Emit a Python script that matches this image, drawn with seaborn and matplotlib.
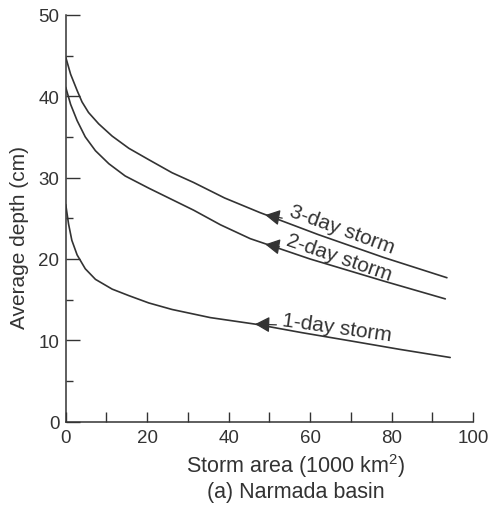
import matplotlib
matplotlib.use("Agg")
import matplotlib.pyplot as plt
import seaborn as sns
import pandas as pd
from matplotlib.ticker import MultipleLocator

# ---- data ----
area_1day = [0, 0.7, 1.5, 2.8, 4.8, 7.3, 11.4, 15.5, 20.4, 26.1, 35.5, 46.5, 58.0, 69.8, 82.0, 94.4]
depth_1day = [26.7, 24.3, 22.3, 20.5, 18.8, 17.5, 16.3, 15.5, 14.6, 13.8, 12.8, 12.0, 10.95, 9.95, 8.9, 7.9]

area_2day = [0, 1.2, 2.8, 4.8, 7.3, 10.6, 14.6, 20.4, 31.4, 38.0, 45.3, 60.0, 78.0, 93.2]
depth_2day = [41.1, 39.0, 37.0, 35.0, 33.3, 31.7, 30.2, 28.7, 26.0, 24.2, 22.5, 20.0, 17.3, 15.1]

area_3day = [0, 1.2, 2.8, 4.0, 5.6, 8.1, 11.4, 15.5, 20.4, 26.1, 31.4, 39.0, 47.7, 62.0, 78.0, 93.6]
depth_3day = [44.8, 42.7, 40.7, 39.3, 38.0, 36.6, 35.1, 33.6, 32.2, 30.6, 29.4, 27.5, 25.7, 23.0, 20.2, 17.7]

series_names = ["1-day storm", "2-day storm", "3-day storm"]
x_ticks = [0, 20, 40, 60, 80, 100]
y_ticks = [0, 10, 20, 30, 40, 50]

rows = []
for name, xs, ys in zip(series_names,
                        [area_1day, area_2day, area_3day],
                        [depth_1day, depth_2day, depth_3day]):
    for x, y in zip(xs, ys):
        rows.append({"area": x, "depth": y, "storm": name})
df = pd.DataFrame(rows)

sns.set_theme(style="white")
plt.rcParams["font.family"] = ["Liberation Sans", "DejaVu Sans"]
plt.rcParams["mathtext.fontset"] = "custom"
plt.rcParams["mathtext.rm"] = "Liberation Sans"

ink = "#333333"

fig = plt.figure(figsize=(4.93, 5.10), dpi=100)
ax = fig.add_axes([0.1333, 0.171, 0.8261, 0.798])

sns.lineplot(data=df, x="area", y="depth", hue="storm",
             palette={n: ink for n in series_names},
             legend=False, ax=ax, linewidth=1.2, estimator=None)

ax.set_xlim(0, 100)
ax.set_ylim(0, 50)
ax.set_xticks(x_ticks)
ax.set_yticks(y_ticks)
ax.xaxis.set_minor_locator(MultipleLocator(10))
ax.yaxis.set_minor_locator(MultipleLocator(5))

for s in ["top", "right"]:
    ax.spines[s].set_visible(False)
for s in ["left", "bottom"]:
    ax.spines[s].set_color(ink)
    ax.spines[s].set_linewidth(1.1)

ax.tick_params(axis="y", which="major", direction="in", length=10, width=1.0,
               color=ink, labelsize=13.5, labelcolor=ink, pad=4.5, left=True)
ax.tick_params(axis="y", which="minor", direction="in", length=5, width=1.0,
               color=ink, left=True)
ax.tick_params(axis="x", which="both", direction="in", length=7, width=1.0,
               color=ink, labelsize=13.5, labelcolor=ink, pad=5, bottom=True)

ax.set_xlabel("Storm area (1000 km$^{2}$)", fontsize=15.5, color=ink, va="baseline")
ax.set_ylabel("Average depth (cm)", fontsize=15, color=ink)
ax.xaxis.set_label_coords(0.565, -0.1236)
ax.yaxis.set_label_coords(-0.09, 0.455)

fig.text(0.6, 0.0235, "(a) Narmada basin", fontsize=15.5, color=ink,
         ha="center", va="baseline")

# annotations: (label, arrow tip on curve, text anchor, rotation)
annots = [
    ("3-day storm", (49.0, 25.4), (55.1, 26.0), -20),
    ("2-day storm", (49.0, 21.8), (54.4, 22.4), -19),
    ("1-day storm", (46.5, 12.0), (53.2, 12.6), -8),
]
for label, tip, txt, rot in annots:
    ax.annotate(label, xy=tip, xytext=txt, fontsize=15, color=ink,
                rotation=rot, rotation_mode="anchor", ha="left", va="center",
                arrowprops=dict(arrowstyle="-|>,head_length=0.55,head_width=0.3",
                                color=ink, lw=0.9,
                                mutation_scale=16, shrinkA=1, shrinkB=0))

fig.savefig("out.png", dpi=100)
